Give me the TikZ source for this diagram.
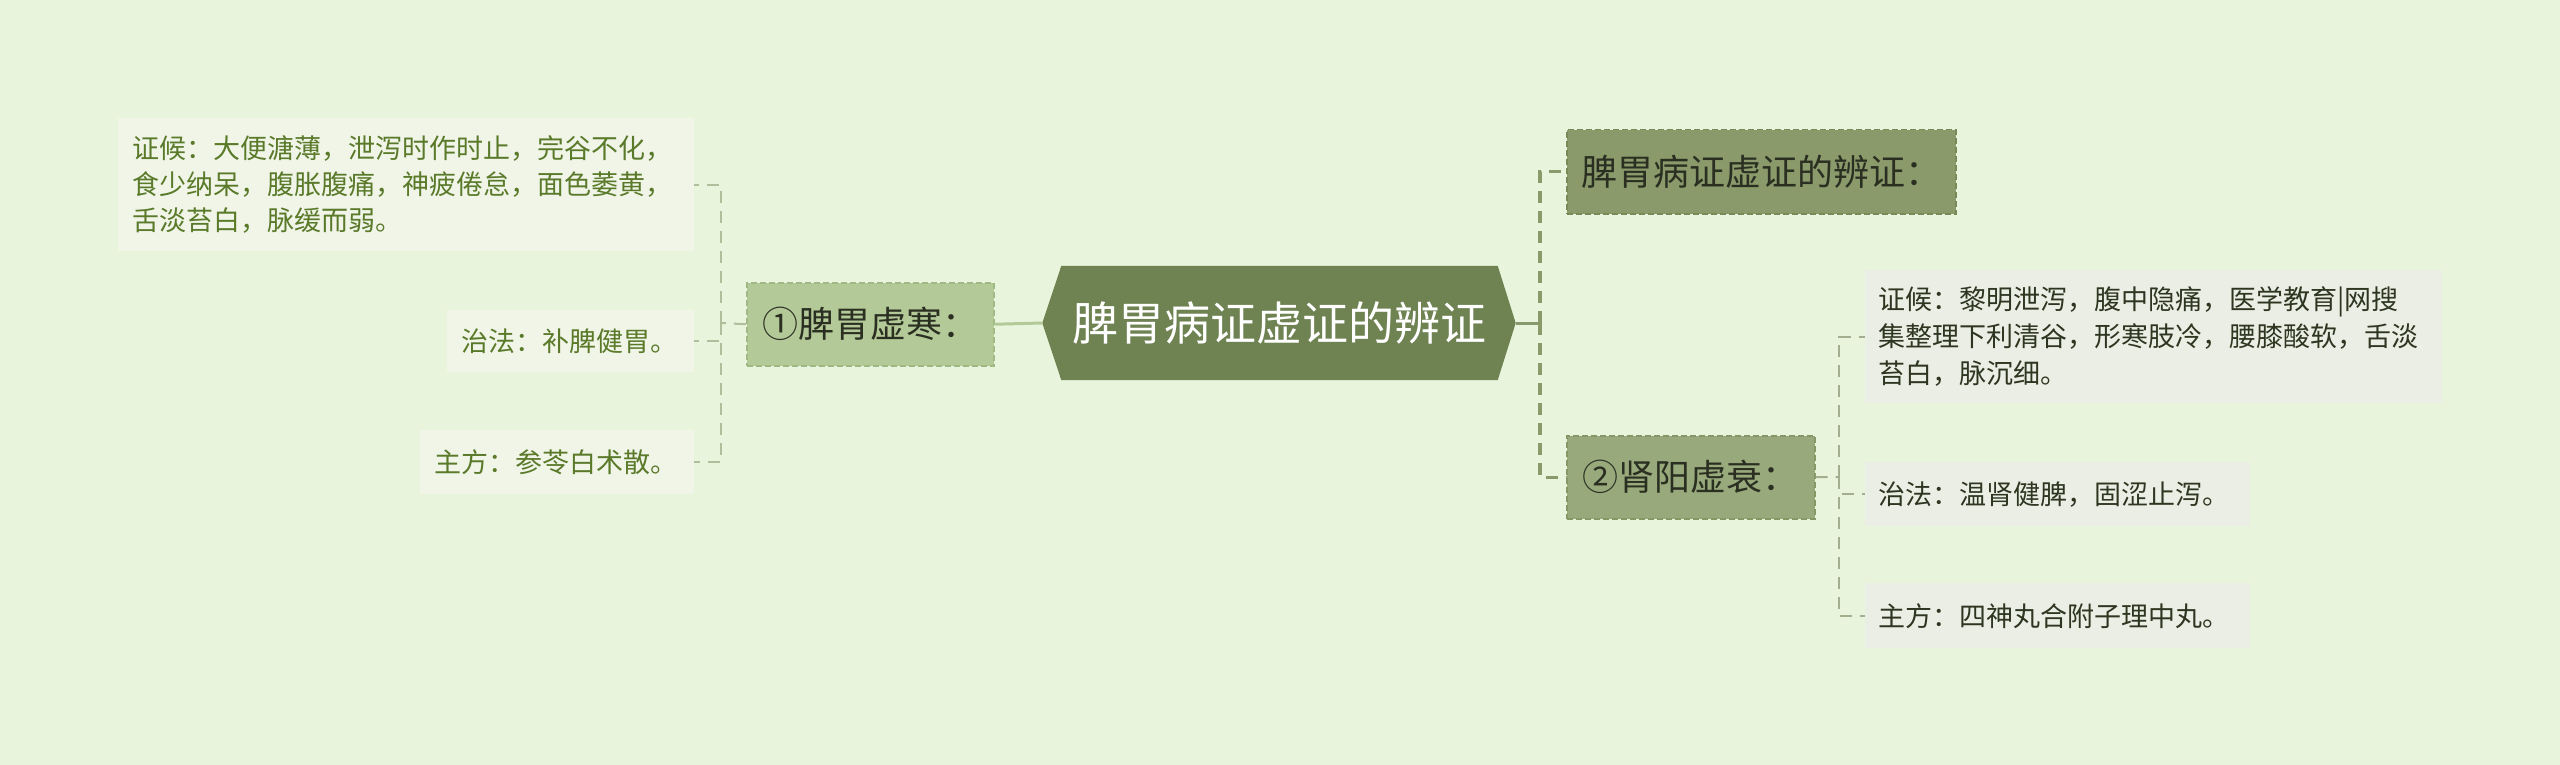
\documentclass[tikz,border=0pt]{standalone}
\usepackage{fontspec}
\setmainfont{Noto Sans CJK SC}
\usetikzlibrary{calc}
\pgfdeclarelayer{bg}
\pgfsetlayers{bg,main}
\definecolor{bgc}{HTML}{E8F5DC}
\definecolor{cenc}{HTML}{6E8252}
\definecolor{topc}{HTML}{8A9A6A}
\definecolor{topb}{HTML}{788A58}
\definecolor{twoc}{HTML}{98A97B}
\definecolor{twob}{HTML}{869868}
\definecolor{onec}{HTML}{B3C997}
\definecolor{oneb}{HTML}{A0B884}
\definecolor{leafLc}{HTML}{F0F5E8}
\definecolor{leafRc}{HTML}{EBEEE4}
\definecolor{txtL}{HTML}{5A7A2A}
\definecolor{txtR}{HTML}{2E3520}
\definecolor{txtD}{HTML}{2A2F22}
\definecolor{lineL}{HTML}{B0BE9C}
\definecolor{lineR}{HTML}{8A9A6A}
\definecolor{lineR2}{HTML}{A3AE8E}
\begin{document}
\begin{tikzpicture}[x=1pt,y=-1pt,
  leafL/.style={fill=leafLc, text=txtL, font=\fontsize{27}{36}\selectfont, align=left, inner xsep=14pt, inner ysep=0pt, anchor=north west},
  leafR/.style={fill=leafRc, text=txtR, font=\fontsize{27}{37}\selectfont, align=left, inner xsep=13pt, inner ysep=0pt, anchor=north west},
  lvl/.style={text=txtD, font=\fontsize{36}{40}\selectfont, inner sep=0pt, anchor=north west, dash pattern=on 6pt off 3pt, line width=1.5pt},
  connL/.style={draw=lineL, line width=2pt, dash pattern=on 12pt off 8pt},
  connR/.style={draw=lineR, line width=3.5pt, dash pattern=on 12pt off 8pt},
  connR2/.style={draw=lineR2, line width=2pt, dash pattern=on 12pt off 8pt}]
\useasboundingbox (0,0) rectangle (2560,765);

% central node
\node[text=white, font=\fontsize{46}{50}\selectfont, minimum width=436pt, minimum height=114pt, inner sep=0pt] (c) at (1279.5,323) {脾胃病证虚证的辨证};
\begin{pgfonlayer}{bg}
\fill[bgc] (0,0) rectangle (2560,765);
\fill[cenc] (c.north west) -- (c.north east) -- ($(c.east)+(18,0)$) -- (c.south east) -- (c.south west) -- ($(c.west)+(-19,0)$) -- cycle;
\end{pgfonlayer}
\coordinate (cL) at ($(c.west)+(-19,0)$);
\coordinate (cR) at ($(c.east)+(18,0)$);

% level-1 nodes
\node[lvl, fill=onec, draw=oneb, minimum width=247pt, minimum height=83pt] (n1) at (746,282) {①脾胃虚寒：};
\node[lvl, fill=topc, draw=topb, minimum width=389pt, minimum height=84pt] (t) at (1566,129) {脾胃病证虚证的辨证：};
\node[lvl, fill=twoc, draw=twob, minimum width=248pt, minimum height=83pt] (n2) at (1566,435) {②肾阳虚衰：};

% left leaves
\node[leafL, text width=548pt, minimum height=133pt] (l1) at (118,118) {证候：大便溏薄，泄泻时作时止，完谷不化，\\食少纳呆，腹胀腹痛，神疲倦怠，面色萎黄，\\舌淡苔白，脉缓而弱。};
\node[leafL, text width=219pt, minimum height=62pt] (l2) at (447,310) {治法：补脾健胃。};
\node[leafL, text width=246pt, minimum height=64pt] (l3) at (420,430) {主方：参苓白术散。};

% right leaves
\node[leafR, text width=551pt, minimum height=133pt] (r1) at (1865,270) {证候：黎明泄泻，腹中隐痛，医学教育|网搜\\集整理下利清谷，形寒肢冷，腰膝酸软，舌淡\\苔白，脉沉细。};
\node[leafR, text width=359pt, minimum height=64pt] (r2) at (1865,462) {治法：温肾健脾，固涩止泻。};
\node[leafR, text width=359pt, minimum height=65pt] (r3) at (1865,583) {主方：四神丸合附子理中丸。};

% connectors centre -> level 1
\draw[draw=onec, line width=3pt] (cL) -- (n1.east);
\coordinate (jR) at (1540,323);
\draw[draw=cenc!80!bgc, line width=3pt] (cR) -- (jR);
\draw[connR] (jR) |- (t.west);
\draw[connR] (jR) |- (n2.west);

% left subtree
\coordinate (jL) at (721,323);
\draw[connL] (n1.west) -- (jL);
\draw[connL] (jL) |- (l1.east);
\draw[connL] (jL) |- (l2.east);
\draw[connL] (jL) |- (l3.east);

% right subtree
\coordinate (j2) at (1839,477);
\draw[connR2] (n2.east) -- (j2);
\draw[connR2] (j2) |- (r1.west);
\draw[connR2] (j2) |- (r2.west);
\draw[connR2] (j2) |- (r3.west);
\end{tikzpicture}
\end{document}
